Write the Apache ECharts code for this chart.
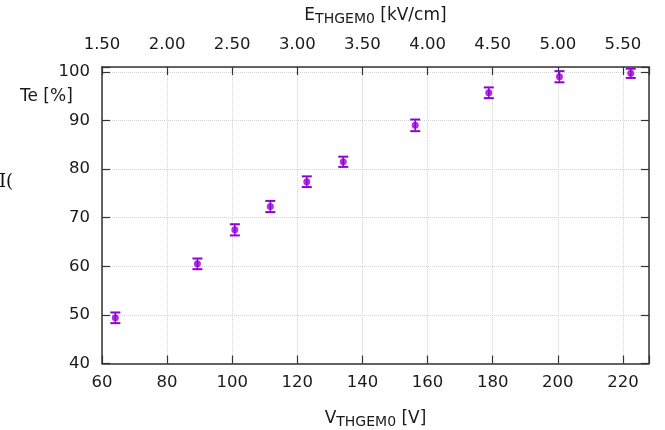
<!DOCTYPE html>
<html>
<head>
<meta charset="utf-8">
<script src="https://cdn.jsdelivr.net/npm/echarts@6/dist/echarts.min.js"></script>
<style>
html,body{margin:0;padding:0;background:#fff;}
#c{width:665px;height:430px;}
</style>
</head>
<body>
<div id="c"></div>
<script>
// Data
var voltage = [64.1, 89.3, 100.8, 111.7, 122.9, 134.1, 156.2, 178.8, 200.5, 222.4];
var te      = [49.4, 60.5, 67.5, 72.3, 77.4, 81.5, 89.0, 95.7, 99.0, 99.7];
var teErr   = [1.1, 1.1, 1.15, 1.15, 1.1, 1.05, 1.2, 1.1, 1.15, 0.95];
var xTicks  = [60, 80, 100, 120, 140, 160, 180, 200, 220];
var eTicks  = [1.5, 2.0, 2.5, 3.0, 3.5, 4.0, 4.5, 5.0, 5.5];
var yTicks  = [40, 50, 60, 70, 80, 90, 100];

var purple = '#9400D3';
var axisCol = '#333333';
var txtCol = '#1a1a1a';
var font = 'DejaVu Sans';

var pts = voltage.map(function (v, i) { return [v, te[i], teErr[i]]; });

var richName = {
  n: {fontSize: 17, fontFamily: font, color: txtCol, verticalAlign: 'bottom', lineHeight: 22},
  s: {fontSize: 14, fontFamily: font, color: txtCol, verticalAlign: 'bottom', lineHeight: 16, padding: [0, 0, -2, 0]}
};

var chart = echarts.init(document.getElementById('c'), null, {renderer: 'canvas'});
chart.setOption({
  animation: false,
  backgroundColor: '#fff',
  textStyle: {fontFamily: font},
  grid: {left: 102, right: 16, top: 67, bottom: 66.5, containLabel: false, outerBoundsMode: 'none'},
  xAxis: [{
    type: 'value', position: 'bottom', min: 60, max: 228, interval: 20,
    axisLine: {show: true, onZero: false, lineStyle: {color: axisCol, width: 1.5}},
    axisTick: {show: true, inside: true, length: 8, lineStyle: {color: axisCol, width: 1.2}},
    axisLabel: {color: txtCol, fontSize: 16.5, fontFamily: font, margin: 11,
      formatter: function (v) { return xTicks.indexOf(v) >= 0 ? String(v) : ''; }},
    splitLine: {show: true, lineStyle: {type: 'dotted', color: '#d4d4d4', width: 1}},
    name: '{n|V}{s|THGEM0}{n| [V]}', nameLocation: 'middle', nameGap: 42,
    nameTextStyle: {color: txtCol, rich: richName}
  }, {
    type: 'value', position: 'top', min: 1.5, max: 5.7, interval: 0.5,
    axisLine: {show: true, onZero: false, lineStyle: {color: axisCol, width: 1.5}},
    axisTick: {show: true, inside: true, length: 8, lineStyle: {color: axisCol, width: 1.2}},
    axisLabel: {color: txtCol, fontSize: 16.5, fontFamily: font, margin: 14,
      formatter: function (v) {
        for (var i = 0; i < eTicks.length; i++) { if (Math.abs(eTicks[i] - v) < 1e-6) return eTicks[i].toFixed(2); }
        return '';
      }},
    splitLine: {show: false},
    name: '{n|E}{s|THGEM0}{n| [kV/cm]}', nameLocation: 'middle', nameGap: 43,
    nameTextStyle: {color: txtCol, rich: richName}
  }],
  yAxis: [{
    type: 'value', position: 'left', min: 40, max: 101, interval: 10,
    axisLine: {show: true, onZero: false, lineStyle: {color: axisCol, width: 1.5}},
    axisTick: {show: true, inside: true, length: 8, lineStyle: {color: axisCol, width: 1.2}},
    axisLabel: {color: txtCol, fontSize: 16.5, fontFamily: font, margin: 12,
      formatter: function (v) { return yTicks.indexOf(v) >= 0 ? String(v) : ''; }},
    splitLine: {show: true, lineStyle: {type: 'dotted', color: '#d4d4d4', width: 1}}
  }, {
    type: 'value', position: 'right', min: 40, max: 101, interval: 10,
    axisLine: {show: true, onZero: false, lineStyle: {color: axisCol, width: 1.5}},
    axisTick: {show: true, inside: true, length: 8, lineStyle: {color: axisCol, width: 1.2}},
    axisLabel: {show: false},
    splitLine: {show: false}
  }],
  graphic: [
    {type: 'text', left: 20, top: 88, style: {text: 'Te [%]', font: '17px "DejaVu Sans"', fill: txtCol}},
    {type: 'text', left: -1, top: 173, style: {text: 'I(', font: '18px "DejaVu Serif"', fill: '#111'}}
  ],
  series: [{
    type: 'custom', xAxisIndex: 0, yAxisIndex: 0, data: pts, z: 3,
    renderItem: function (params, api) {
      var x = api.value(0), y = api.value(1), e = api.value(2);
      var top = api.coord([x, y + e]);
      var bot = api.coord([x, y - e]);
      var hw = 5;
      var st = {stroke: purple, lineWidth: 2};
      return {type: 'group', children: [
        {type: 'line', shape: {x1: top[0], y1: top[1], x2: bot[0], y2: bot[1]}, style: {stroke: purple, lineWidth: 1.5}},
        {type: 'line', shape: {x1: top[0] - hw, y1: top[1], x2: top[0] + hw, y2: top[1]}, style: st},
        {type: 'line', shape: {x1: bot[0] - hw, y1: bot[1], x2: bot[0] + hw, y2: bot[1]}, style: st}
      ]};
    }
  }, {
    type: 'scatter', xAxisIndex: 0, yAxisIndex: 0, z: 4,
    data: voltage.map(function (v, i) { return [v, te[i]]; }),
    symbol: 'circle', symbolSize: 7,
    itemStyle: {color: purple}
  }]
});
</script>
</body>
</html>
